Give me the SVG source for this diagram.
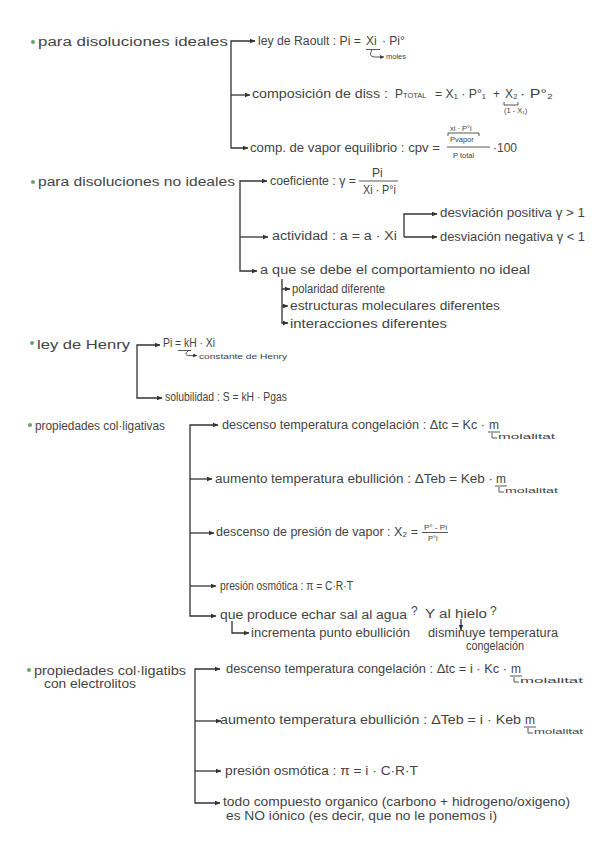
<svg xmlns="http://www.w3.org/2000/svg" width="600" height="848" viewBox="0 0 600 848">
<style>
.t{font-family:"Liberation Sans","DejaVu Sans",sans-serif;font-size:12px;fill:#444}
.h{font-size:12.5px}
.s{font-size:7.5px}
.c{fill:none;stroke:#333;stroke-width:1.3}
.u{fill:none;stroke:#444;stroke-width:0.9}
.b{fill:#6aa36a}
</style>
<defs>
<marker id="a" markerUnits="userSpaceOnUse" markerWidth="6" markerHeight="6" refX="5.5" refY="3" orient="auto"><path d="M0,0.5 L6,3 L0,5.5 z" fill="#333"/></marker>
<marker id="as" markerUnits="userSpaceOnUse" markerWidth="4" markerHeight="4" refX="3.8" refY="2" orient="auto"><path d="M0,0 L4,2 L0,4 z" fill="#333"/></marker>
</defs>
<rect width="600" height="848" fill="#fff"/>

<g id="connectors">
<path class="c" marker-end="url(#a)" d="M231,95 L231,41 L255,41"/>
<path class="c" marker-end="url(#a)" d="M231,95 L250,95"/>
<path class="c" marker-end="url(#a)" d="M231,95 L231,148 L248,148"/>
<path class="c" marker-end="url(#a)" d="M240,237 L240,181 L267,181"/>
<path class="c" marker-end="url(#a)" d="M240,237 L268,237"/>
<path class="c" marker-end="url(#a)" d="M240,237 L240,271 L257,271"/>
<path class="c" marker-end="url(#a)" d="M404,237 L404,214 L437,214"/>
<path class="c" marker-end="url(#a)" d="M404,237 L437,237"/>
<path class="c" marker-end="url(#a)" d="M282,289 L282,323 L288,323"/>
<path class="c" marker-end="url(#a)" d="M282,279 L282,289 L290,289"/>
<path class="c" marker-end="url(#a)" d="M282,306 L288,306"/>
<path class="c" marker-end="url(#a)" d="M137,371 L137,345 L160,345"/>
<path class="c" marker-end="url(#a)" d="M137,371 L137,398 L162,398"/>
<path class="c" marker-end="url(#a)" d="M190,479 L190,425 L218,425"/>
<path class="c" marker-end="url(#a)" d="M190,479 L212,479"/>
<path class="c" marker-end="url(#a)" d="M190,533 L214,533"/>
<path class="c" marker-end="url(#a)" d="M190,586 L216,586"/>
<path class="c" marker-end="url(#a)" d="M190,479 L190,616 L216,616"/>
<path class="c" marker-end="url(#a)" d="M232,621 L232,633 L249,633"/>
<path class="c" marker-end="url(#a)" d="M461,619 L461,630"/>
<path class="c" marker-end="url(#a)" d="M195,721 L195,669 L220,669"/>
<path class="c" marker-end="url(#a)" d="M195,721 L221,721"/>
<path class="c" marker-end="url(#a)" d="M195,771 L221,771"/>
<path class="c" marker-end="url(#a)" d="M195,721 L195,803 L220,803"/>
</g>

<g id="n1">
<circle class="b" cx="33" cy="42" r="2"/>
<text class="t h" x="38" y="46" textLength="190" lengthAdjust="spacingAndGlyphs">para disoluciones ideales</text>
</g>
<g id="n1a">
<text class="t" x="258" y="45" textLength="103" lengthAdjust="spacingAndGlyphs">ley de Raoult  :  Pi =</text>
<text class="t" x="366" y="45">Xi</text>
<text class="t" x="382" y="45">· Pi°</text>
<path class="u" d="M366,49.5 L380,49.5"/>
<path class="u" marker-end="url(#as)" d="M372,50 Q368,56 374,57 L384,57"/>
<text class="t s" x="386" y="59">moles</text>
</g>
<g id="n1b">
<text class="t" x="252" y="98" textLength="136" lengthAdjust="spacingAndGlyphs">composición de diss  :</text>
<text class="t" x="395" y="98">P<tspan class="s">TOTAL</tspan></text>
<text class="t" x="435" y="98" textLength="51" lengthAdjust="spacingAndGlyphs">= X₁ · P°₁</text>
<text class="t" x="493" y="98">+</text>
<text class="t" x="505" y="98">X₂</text>
<text class="t" x="520" y="98" textLength="33" lengthAdjust="spacingAndGlyphs">· P°₂</text>
<path class="u" d="M504,102 L504,105 L518,105 L518,102"/>
<text class="t s" x="504" y="113">(1 - X₁)</text>
</g>
<g id="n1c">
<text class="t" x="250" y="152" textLength="190" lengthAdjust="spacingAndGlyphs">comp. de vapor equilibrio  :  cpv =</text>
<text class="t s" x="450" y="131">xi · P°i</text>
<path class="u" d="M448,136 L448,133 L479,133 L479,136"/>
<text class="t s" x="450" y="142">Pvapor</text>
<path class="u" d="M447,147 L490,147"/>
<text class="t s" x="453" y="158">P total</text>
<text class="t" x="493" y="152">·100</text>
</g>

<g id="n2">
<circle class="b" cx="33" cy="182" r="2"/>
<text class="t h" x="38" y="186" textLength="197" lengthAdjust="spacingAndGlyphs">para disoluciones no ideales</text>
</g>
<g id="n2a">
<text class="t" x="270" y="185" textLength="86" lengthAdjust="spacingAndGlyphs">coeficiente  :  γ =</text>
<text class="t" x="372" y="177">Pi</text>
<path class="u" d="M359,181 L398,181"/>
<text class="t" x="363" y="194" textLength="33" lengthAdjust="spacingAndGlyphs">Xi · P°i</text>
</g>
<g id="n2b">
<text class="t" x="272" y="240" textLength="125" lengthAdjust="spacingAndGlyphs">actividad  :  a = a · Xi</text>
</g>
<g id="n2b1"><text class="t" x="440" y="217" textLength="145" lengthAdjust="spacingAndGlyphs">desviación positiva  γ &gt; 1</text></g>
<g id="n2b2"><text class="t" x="440" y="241" textLength="145" lengthAdjust="spacingAndGlyphs">desviación negativa  γ &lt; 1</text></g>
<g id="n2c"><text class="t" x="260" y="274" textLength="270" lengthAdjust="spacingAndGlyphs">a que se debe el comportamiento no ideal</text></g>
<g id="n2c1"><text class="t" x="292" y="293" textLength="93" lengthAdjust="spacingAndGlyphs">polaridad diferente</text></g>
<g id="n2c2"><text class="t" x="290" y="310" textLength="210" lengthAdjust="spacingAndGlyphs">estructuras moleculares diferentes</text></g>
<g id="n2c3"><text class="t" x="290" y="328" textLength="157" lengthAdjust="spacingAndGlyphs">interacciones diferentes</text></g>

<g id="n3">
<circle class="b" cx="32" cy="343" r="2"/>
<text class="t h" x="37" y="349" textLength="93" lengthAdjust="spacingAndGlyphs">ley de Henry</text>
</g>
<g id="n3a">
<text class="t" x="163" y="347" textLength="52" lengthAdjust="spacingAndGlyphs">Pi = kH · Xi</text>
<path class="u" d="M178,350.5 L191,350.5"/>
<path class="u" marker-end="url(#as)" d="M188,351 Q183,355 189,355.5 L197,355.5"/>
<text class="t s" x="199" y="359" textLength="88" lengthAdjust="spacingAndGlyphs">constante de Henry</text>
</g>
<g id="n3b"><text class="t" x="165" y="401" textLength="122" lengthAdjust="spacingAndGlyphs">solubilidad  :  S = kH · Pgas</text></g>

<g id="n4">
<circle class="b" cx="30" cy="425" r="2"/>
<text class="t" x="35" y="430" textLength="130" lengthAdjust="spacingAndGlyphs">propiedades col·ligativas</text>
</g>
<g id="n4a">
<text class="t" x="222" y="429" textLength="263" lengthAdjust="spacingAndGlyphs">descenso temperatura congelación  :  Δtc = Kc ·</text>
<text class="t" x="489" y="429">m</text>
<path class="u" d="M488,432 L500,432"/>
<path class="u" d="M492,433 L492,438 L497,438"/>
<text class="t s" x="498" y="439" textLength="57" lengthAdjust="spacingAndGlyphs">molalitat</text>
</g>
<g id="n4b">
<text class="t" x="215" y="483" textLength="278" lengthAdjust="spacingAndGlyphs">aumento temperatura ebullición  :  ΔTeb = Keb ·</text>
<text class="t" x="496" y="483">m</text>
<path class="u" d="M495,486 L507,486"/>
<path class="u" d="M499,487 L499,492 L504,492"/>
<text class="t s" x="505" y="493" textLength="53" lengthAdjust="spacingAndGlyphs">molalitat</text>
</g>
<g id="n4c">
<text class="t" x="216" y="536" textLength="202" lengthAdjust="spacingAndGlyphs">descenso de presión de vapor  :  X₂ =</text>
<text class="t s" x="424" y="530" textLength="23" lengthAdjust="spacingAndGlyphs">P° - Pi</text>
<path class="u" d="M422,532.5 L448,532.5"/>
<text class="t s" x="428" y="541">P°i</text>
</g>
<g id="n4d"><text class="t" x="220" y="590" textLength="133" lengthAdjust="spacingAndGlyphs">presión osmótica  :  π = C·R·T</text></g>
<g id="n4e">
<text class="t" x="220" y="619" textLength="187" lengthAdjust="spacingAndGlyphs">que produce echar sal al agua</text>
<text class="t" x="411" y="615">?</text>
<text class="t" x="425" y="618" textLength="62" lengthAdjust="spacingAndGlyphs">Y al hielo</text>
<text class="t" x="490" y="615">?</text>
</g>
<g id="n4e1"><text class="t" x="251" y="637" textLength="159" lengthAdjust="spacingAndGlyphs">incrementa punto ebullición</text></g>
<g id="n4e2">
<text class="t" x="428" y="637" textLength="130" lengthAdjust="spacingAndGlyphs">disminuye temperatura</text>
<text class="t" x="466" y="650" textLength="58" lengthAdjust="spacingAndGlyphs">congelación</text>
</g>

<g id="n5">
<circle class="b" cx="29" cy="670" r="2"/>
<text class="t" x="34" y="675" textLength="152" lengthAdjust="spacingAndGlyphs">propiedades col·ligatibs</text>
<text class="t" x="44" y="688" textLength="92" lengthAdjust="spacingAndGlyphs">con electrolitos</text>
</g>
<g id="n5a">
<text class="t" x="226" y="673" textLength="281" lengthAdjust="spacingAndGlyphs">descenso temperatura congelación  :  Δtc = i · Kc ·</text>
<text class="t" x="511" y="673">m</text>
<path class="u" d="M510,676 L522,676"/>
<path class="u" d="M514,677 L514,682 L519,682"/>
<text class="t s" x="520" y="683" textLength="63" lengthAdjust="spacingAndGlyphs">molalitat</text>
</g>
<g id="n5b">
<text class="t" x="220" y="724" textLength="301" lengthAdjust="spacingAndGlyphs">aumento temperatura ebullición  :  ΔTeb = i · Keb</text>
<text class="t" x="525" y="724">m</text>
<path class="u" d="M524,727 L536,727"/>
<path class="u" d="M528,728 L528,733 L533,733"/>
<text class="t s" x="534" y="734" textLength="49" lengthAdjust="spacingAndGlyphs">molalitat</text>
</g>
<g id="n5c"><text class="t" x="225" y="775" textLength="193" lengthAdjust="spacingAndGlyphs">presión osmótica  :  π = i · C·R·T</text></g>
<g id="n5d">
<text class="t" x="223" y="806" textLength="347" lengthAdjust="spacingAndGlyphs">todo compuesto organico  (carbono + hidrogeno/oxigeno)</text>
<text class="t" x="226" y="820" textLength="271" lengthAdjust="spacingAndGlyphs">es NO iónico  (es decir, que no le ponemos i)</text>
</g>
</svg>
